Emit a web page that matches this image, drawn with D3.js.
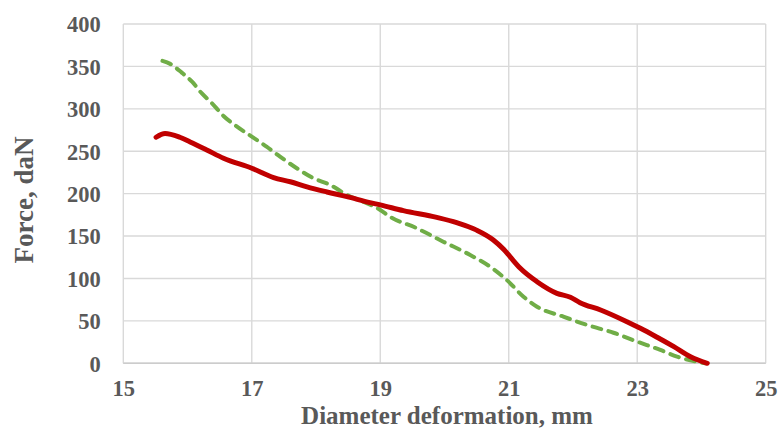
<!DOCTYPE html>
<html><head><meta charset="utf-8">
<script src="https://cdn.jsdelivr.net/npm/d3@7"></script>
<style>html,body{margin:0;padding:0;background:#fff;}</style>
</head><body><svg id="c" width="779" height="430"></svg>
<script>
const xTicks = [15,17,19,21,23,25];
const yTicks = [0,50,100,150,200,250,300,350,400];
const xTitle = "Diameter deformation, mm";
const yTitle = "Force, daN";

const redX = [15.51,15.65,15.88,16.04,16.30,16.56,17.0,17.34,17.6,17.86,18.17,18.48,18.84,19.0,19.36,19.88,20.19,20.5,20.76,20.92,21.02,21.18,21.44,21.75,21.96,22.11,22.43,22.84,23.05,23.31,23.57,23.83,24.09];
const redF = [266.5,271,266.5,261,251.5,241.7,230,219,214,208,202,196.5,189.4,186.7,180,172,165.8,157,145.4,134.4,125.7,112,96.2,82.5,77.8,71.5,62.8,49,41.3,30.7,19.6,7.8,0];

const greenX = [15.61,15.73,15.91,16.07,16.22,16.38,16.56,16.77,17.0,17.23,17.44,17.7,17.96,18.22,18.48,18.79,19.0,19.15,19.57,19.98,20.4,20.71,20.97,21.23,21.44,21.85,22.22,22.63,23.0,23.36,23.62,23.88,24.06];
const greenF = [356.5,353,342.7,332,318.4,306.6,291.6,279,267.2,255.4,243.6,230,218.2,210.3,198.5,188.7,180.8,172.9,159.2,143.4,127.7,113.9,98.2,78.5,66.7,55,45.2,36,25.5,15.7,7.8,2.7,0];

const svg = d3.select("#c");
const L = 123.3, R = 765.7, T = 24, B = 363.3;
const x = d3.scaleLinear().domain([15,25]).range([L,R]);
const y = d3.scaleLinear().domain([0,400]).range([B,T]);
const font = "'Liberation Serif','Times New Roman',serif";
const grey = "#595959";

// gridlines
svg.append("g").selectAll("line").data(yTicks).join("line")
  .attr("x1",L).attr("x2",R).attr("y1",d=>y(d)).attr("y2",d=>y(d))
  .attr("stroke","#d9d9d9").attr("stroke-width",1.4);
svg.append("g").selectAll("line").data(xTicks).join("line")
  .attr("y1",T).attr("y2",B).attr("x1",d=>x(d)).attr("x2",d=>x(d))
  .attr("stroke","#d9d9d9").attr("stroke-width",1.4);
svg.append("line").attr("x1",L).attr("x2",R).attr("y1",B).attr("y2",B)
  .attr("stroke","#cccccc").attr("stroke-width",1.4);

// axes tick labels
const xAxis = d3.axisBottom(x).tickValues(xTicks).tickSize(0).tickPadding(0).tickFormat(d3.format("d"));
const gx = svg.append("g").attr("transform",`translate(0,${B})`).call(xAxis);
gx.select(".domain").remove();
gx.selectAll("text").attr("y",32.7).attr("dy",0).attr("fill",grey)
  .attr("font-family",font).attr("font-weight","bold").attr("font-size",22.5);

const yAxis = d3.axisLeft(y).tickValues(yTicks).tickSize(0).tickPadding(0).tickFormat(d3.format("d"));
const gy = svg.append("g").attr("transform",`translate(${L},0)`).call(yAxis);
gy.select(".domain").remove();
gy.selectAll("text").attr("x",-22.5).attr("dy","0.35em").attr("fill",grey)
  .attr("font-family",font).attr("font-weight","bold").attr("font-size",22.5);

// titles
svg.append("text").attr("x",447).attr("y",424.3).attr("text-anchor","middle")
  .attr("fill",grey).attr("font-family",font).attr("font-weight","bold").attr("font-size",25)
  .text(xTitle);
svg.append("text").attr("transform",`translate(33,200) rotate(-90)`).attr("text-anchor","middle")
  .attr("fill",grey).attr("font-family",font).attr("font-weight","bold").attr("font-size",27)
  .text(yTitle);

// lines
const line = d3.line().x(d=>x(d[0])).y(d=>y(d[1])).curve(d3.curveMonotoneX);
svg.append("path").datum(greenX.map((v,i)=>[v,greenF[i]])).attr("d",line)
  .attr("fill","none").attr("stroke","#70ad47").attr("stroke-width",4)
  .attr("stroke-dasharray","9,7.5").attr("stroke-linecap","round");
svg.append("path").datum(redX.map((v,i)=>[v,redF[i]])).attr("d",line)
  .attr("fill","none").attr("stroke","#c00000").attr("stroke-width",5)
  .attr("stroke-linecap","round").attr("stroke-linejoin","round");
</script></body></html>
